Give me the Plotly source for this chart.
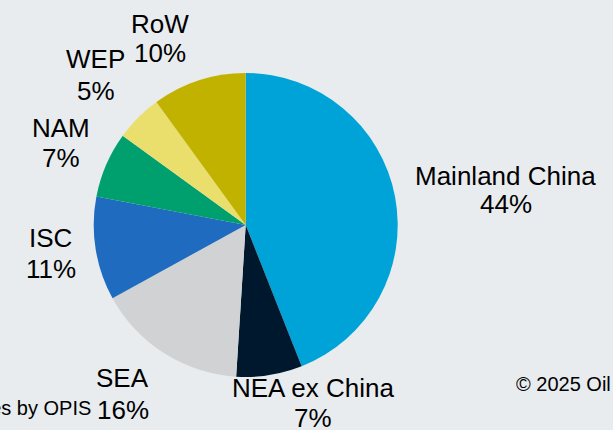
import plotly.graph_objects as go

labels = ["Mainland China", "NEA ex China", "SEA", "ISC", "NAM", "WEP", "RoW"]
values = [44, 7, 16, 11, 7, 5, 10]
colors = ["#00A3D7", "#00182D", "#D0D2D3", "#1E6BC0", "#00A06E", "#EADF6D", "#C2B200"]

# label placement (pixels): centre x, baseline of name, baseline of percent
label_pos = [(505.5, 185, 213.3), (313, 396.7, 426.7), (122.5, 387, 419),
             (50.5, 246.7, 278), (61, 136.7, 167), (95.5, 67.7, 100), (160, 33.3, 62.3)]

W, H = 613, 430
cx, cy, r = 245.7, 225, 152
FONT = "Liberation Sans, Arial, sans-serif"
LS = 26


def px(x):
    return x / W


def py(y):
    return 1 - y / H


fig = go.Figure(go.Pie(
    labels=labels, values=values, sort=False, direction="clockwise", rotation=0,
    marker=dict(colors=colors, line=dict(width=0)),
    textinfo="none", showlegend=False, hoverinfo="label+percent",
    domain=dict(x=[px(cx - r), px(cx + r)], y=[py(cy + r), py(cy - r)]),
))

for lab, val, (lx, b1, b2) in zip(labels, values, label_pos):
    for txt, base in ((lab, b1), (f"{val}%", b2)):
        fig.add_annotation(text=txt, xref="paper", yref="paper", x=px(lx), y=py(base - 0.3465 * LS),
                           xanchor="center", yanchor="middle", showarrow=False,
                           font=dict(size=LS, color="#000000", family=FONT))

fig.add_annotation(text="<b>Share by region</b>", xref="paper", yref="paper",
                   x=px(-24), y=py(1.5), xanchor="left", yanchor="bottom", showarrow=False,
                   font=dict(size=42, color="#00A3D7", family=FONT))
fig.add_annotation(text="Source: Estimates by OPIS", xref="paper", yref="paper",
                   x=px(93), y=py(415 - 0.3465 * 20), xanchor="right", yanchor="middle", showarrow=False,
                   font=dict(size=20, color="#000000", family=FONT))
fig.add_annotation(text="© 2025 Oil Price Information Service", xref="paper", yref="paper",
                   x=px(514), y=py(391 - 0.3465 * 20), xanchor="left", yanchor="middle", showarrow=False,
                   font=dict(size=20, color="#000000", family=FONT))

fig.update_layout(width=W, height=H, margin=dict(l=0, r=0, t=0, b=0),
                  paper_bgcolor="#E8ECEF", plot_bgcolor="#E8ECEF")
fig.write_html("out.html", config={"displayModeBar": False},
               post_script="document.body.style.margin='0';document.body.style.overflow='hidden';")
